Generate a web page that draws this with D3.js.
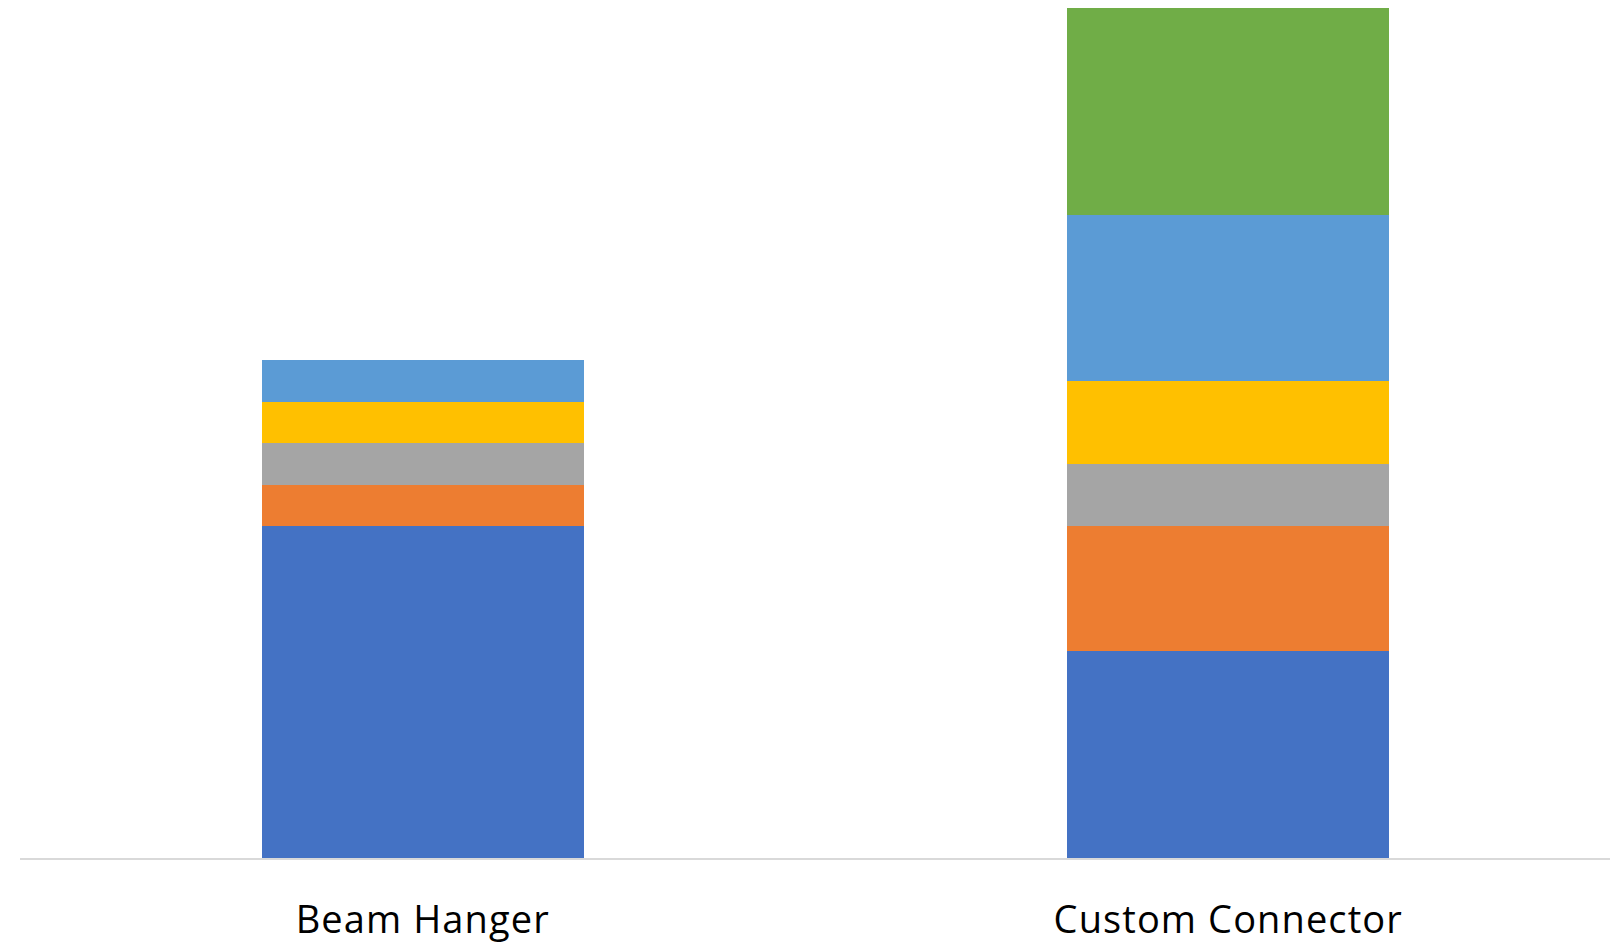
<!DOCTYPE html>
<html>
<head>
<meta charset="utf-8">
<script src="https://cdn.jsdelivr.net/npm/d3@7"></script>
<style>
  html, body { margin: 0; padding: 0; background: #ffffff; }
  svg { display: block; }
</style>
</head>
<body>
<svg id="chart" width="1610" height="950"></svg>
<script>
// Product categories along the x axis
const categories = ["Beam Hanger", "Custom Connector"];

// Stack segments, bottom to top
const seriesNames = ["Series 1", "Series 2", "Series 3", "Series 4", "Series 5", "Series 6"];
const series1 = [8, 5];
const series2 = [1, 3];
const series3 = [1, 1.5];
const series4 = [1, 2];
const series5 = [1, 4];
const series6 = [0, 5];

const colors = ["#4472C4", "#ED7D31", "#A5A5A5", "#FFC000", "#5B9BD5", "#70AD47"];

const rows = categories.map((c, i) => ({
  category: c,
  "Series 1": series1[i],
  "Series 2": series2[i],
  "Series 3": series3[i],
  "Series 4": series4[i],
  "Series 5": series5[i],
  "Series 6": series6[i]
}));

const svg = d3.select("#chart");
const width = 1610, height = 950;
const plot = { left: 20, right: 1631, top: 8, bottom: 858 };

const x = d3.scaleBand()
  .domain(categories)
  .range([plot.left, plot.right])
  .paddingInner(0.6)
  .paddingOuter(0.3);

const stacked = d3.stack().keys(seriesNames)(rows);
const yMax = d3.max(stacked[stacked.length - 1], d => d[1]);

const y = d3.scaleLinear()
  .domain([0, yMax])
  .range([plot.bottom, plot.top]);

// Stacked bar segments
svg.append("g")
  .attr("shape-rendering", "crispEdges")
  .selectAll("g")
  .data(stacked)
  .join("g")
  .attr("fill", (d, i) => colors[i])
  .selectAll("rect")
  .data(d => d)
  .join("rect")
  .attr("x", d => x(d.data.category))
  .attr("y", d => y(d[1]))
  .attr("width", x.bandwidth())
  .attr("height", d => y(d[0]) - y(d[1]));

// Category axis
const xAxis = svg.append("g")
  .attr("transform", `translate(0,${plot.bottom + 1})`)
  .call(d3.axisBottom(x).tickSize(0).tickPadding(47));

xAxis.select(".domain")
  .attr("d", `M${plot.left},0H${width}`)
  .attr("stroke", "#D9D9D9")
  .attr("stroke-width", 2);

xAxis.selectAll("text")
  .attr("font-family", "'Open Sans', 'Noto Sans', sans-serif")
  .attr("font-size", 38)
  .attr("letter-spacing", "1.1px")
  .attr("fill", "#000000");
</script>
</body>
</html>
